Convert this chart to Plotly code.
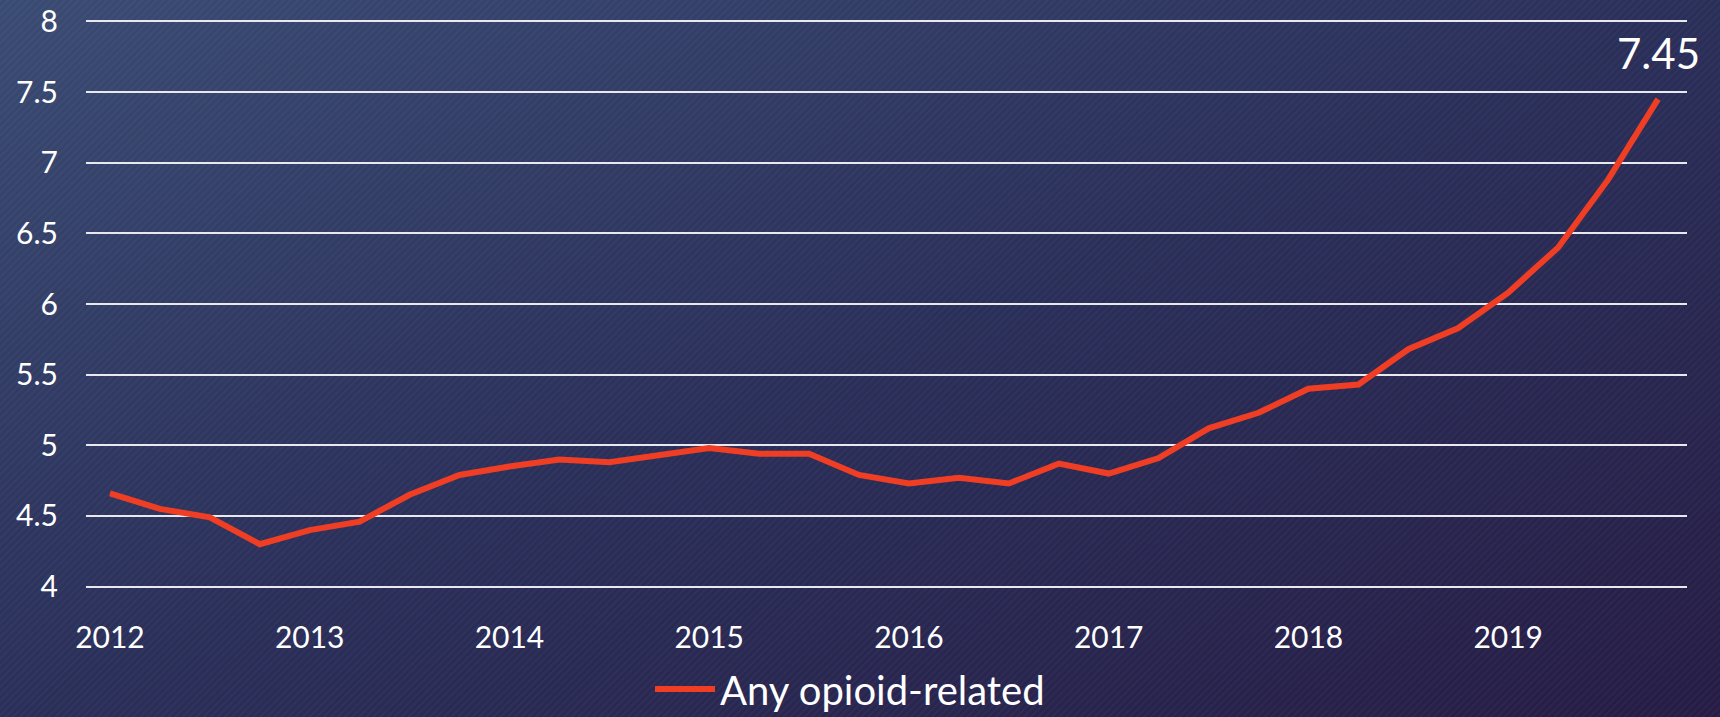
import base64
import plotly.graph_objects as go

years = ["2012", "2013", "2014", "2015", "2016", "2017", "2018", "2019"]
quarters = [f"{y} Q{q}" for y in years for q in range(1, 5)]
any_opioid = [4.66, 4.55, 4.49, 4.30, 4.40, 4.46, 4.65, 4.79,
              4.85, 4.90, 4.88, 4.93, 4.98, 4.94, 4.94, 4.79,
              4.73, 4.77, 4.73, 4.87, 4.80, 4.91, 5.12, 5.23,
              5.40, 5.43, 5.68, 5.83, 6.08, 6.40, 6.88, 7.45]
series_name = "Any opioid-related"
y_ticks = [4, 4.5, 5, 5.5, 6, 6.5, 7, 7.5, 8]
y_tick_text = ["4", "4.5", "5", "5.5", "6", "6.5", "7", "7.5", "8"]

W, H = 1720, 717
ML, MR, MT, MB = 86, 33, 20, 129
PW, PH = W - ML - MR, H - MT - MB

svg = f'''<svg xmlns="http://www.w3.org/2000/svg" width="{W}" height="{H}" viewBox="0 0 {W} {H}" preserveAspectRatio="none">
<defs>
<linearGradient id="g" x1="0" y1="0" x2="1" y2="1">
<stop offset="0" stop-color="#3a4b73"/>
<stop offset="0.5" stop-color="#2a2f59"/>
<stop offset="1" stop-color="#261c45"/>
</linearGradient>
<pattern id="p" width="5" height="5" patternUnits="userSpaceOnUse" patternTransform="rotate(45)">
<rect x="0" y="0" width="1.6" height="5" fill="#ffffff" fill-opacity="0.035"/>
</pattern>
</defs>
<rect width="{W}" height="{H}" fill="url(#g)"/>
<rect width="{W}" height="{H}" fill="url(#p)"/>
</svg>'''
bg_src = "data:image/svg+xml;base64," + base64.b64encode(svg.encode()).decode()

fig = go.Figure()
fig.add_trace(go.Scatter(
    x=quarters, y=any_opioid, mode="lines", name=series_name,
    line=dict(color="#f03e24", width=6),
))

fig.add_annotation(
    x=quarters[-1], y=any_opioid[-1], text=f"{any_opioid[-1]:.2f}",
    showarrow=False, yanchor="bottom", yshift=19,
    font=dict(family="Lato", size=42, color="#ffffff"),
)

fig.update_layout(
    width=W, height=H,
    margin=dict(l=ML, r=MR, t=MT, b=MB, autoexpand=False),
    paper_bgcolor="#2e3461",
    plot_bgcolor="rgba(0,0,0,0)",
    font=dict(family="Lato", color="#ffffff", size=30),
    showlegend=True,
    legend=dict(orientation="h", xref="container", yref="container",
                x=650 / W, xanchor="left",
                y=1 - 689 / H, yanchor="middle",
                font=dict(size=40, color="#ffffff"), bgcolor="rgba(0,0,0,0)",
                itemwidth=60),
    images=[dict(source=bg_src, xref="paper", yref="paper",
                 x=-ML / PW, y=1 + MT / PH, sizex=W / PW, sizey=H / PH,
                 xanchor="left", yanchor="top", sizing="stretch", layer="below")],
)

fig.update_xaxes(
    type="category", categoryorder="array", categoryarray=quarters,
    range=[-0.48, 31.58],
    tickmode="array", tickvals=quarters[::4], ticktext=years,
    showgrid=False, zeroline=False, showline=False,
    ticks="", ticklabelstandoff=29,
    tickfont=dict(size=30, color="#ffffff"),
)
fig.update_yaxes(
    range=[3.99, 8.01], tickmode="array", tickvals=y_ticks, ticktext=y_tick_text,
    showgrid=True, gridcolor="#e8e8ee", gridwidth=2,
    zeroline=False, showline=False, ticks="", ticklabelstandoff=27,
    tickfont=dict(size=30, color="#ffffff"),
)

fig.write_html(
    "out.html",
    config={"displayModeBar": False},
    post_script="document.body.style.margin='0';document.body.style.overflow='hidden';document.documentElement.style.overflow='hidden';",
)
